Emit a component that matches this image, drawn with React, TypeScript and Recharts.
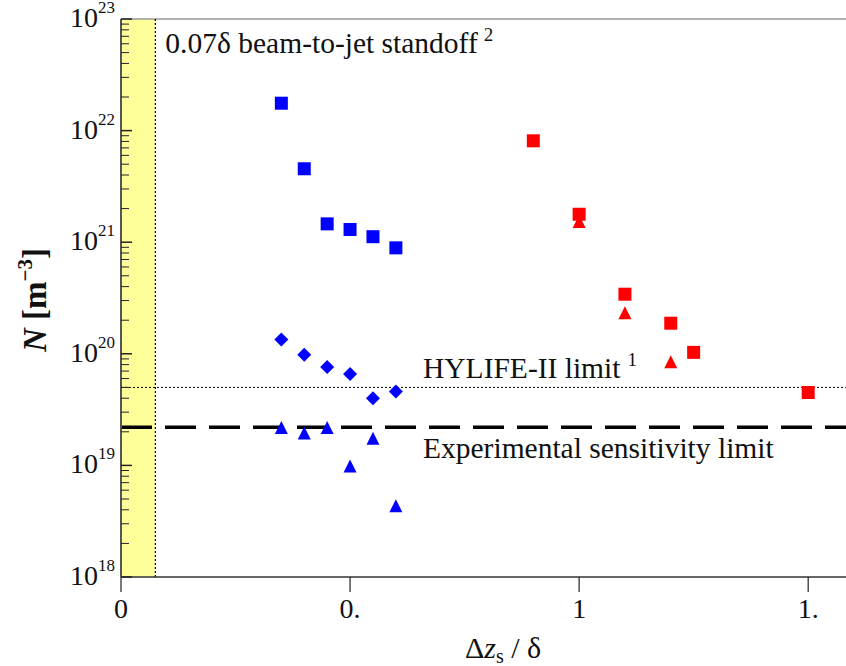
import React from "react";
import { ScatterChart, Scatter, XAxis, YAxis, ReferenceArea, ReferenceLine } from "recharts";

// blue series (smaller standoff)
const blueX = [0.35, 0.4, 0.45, 0.5, 0.55, 0.6];
const blueSquareN = [1.76e22, 4.55e21, 1.46e21, 1.3e21, 1.12e21, 8.9e20];
const blueDiamondN = [1.34e20, 9.8e19, 7.6e19, 6.6e19, 4.0e19, 4.6e19];
const blueTriangleN = [2.16e19, 1.93e19, 2.16e19, 9.8e18, 1.73e19, 4.3e18];

// red series
const redSquareX = [0.9, 1.0, 1.1, 1.2, 1.25, 1.5];
const redSquareN = [8.1e21, 1.78e21, 3.42e20, 1.88e20, 1.03e20, 4.5e19];
const redTriangleX = [1.0, 1.1, 1.2];
const redTriangleN = [1.52e21, 2.31e20, 8.4e19];

const xTicks = [0, 0.5, 1, 1.5];
const xTickLabels = ["0", "0.", "1", "1."];
const decades = [18, 19, 20, 21, 22, 23];

const standoff = 0.075;
const hylifeLimit = 5e19;
const sensitivityLimit = 2.2e19;

const FONT = "'Liberation Serif', 'Times New Roman', 'DejaVu Serif', serif";
const BLUE = "#0000ff";
const RED = "#ff0000";

const toPoints = (xs: number[], ns: number[]) => xs.map((x, i) => ({ x, n: ns[i] }));

const yTicks: number[] = [];
decades.forEach((d) => {
  yTicks.push(Math.pow(10, d));
  if (d < 23) for (let k = 2; k <= 9; k++) yTicks.push(k * Math.pow(10, d));
});

const square = (color: string) => (p: any) => (
  <rect x={p.cx - 6.5} y={p.cy - 6.5} width={13} height={13} fill={color} />
);
const diamond = (color: string) => (p: any) => (
  <polygon
    points={`${p.cx},${p.cy - 7} ${p.cx + 7},${p.cy} ${p.cx},${p.cy + 7} ${p.cx - 7},${p.cy}`}
    fill={color}
  />
);
const triangle = (color: string) => (p: any) => (
  <polygon
    points={`${p.cx},${p.cy - 7} ${p.cx + 6.5},${p.cy + 6} ${p.cx - 6.5},${p.cy + 6}`}
    fill={color}
  />
);

const YTick = (props: any) => {
  const { x, y, payload } = props;
  const e = Math.log10(payload.value);
  const major = Math.abs(e - Math.round(e)) < 1e-6;
  return (
    <g>
      <line x1={x} x2={x + (major ? 11 : 8)} y1={y} y2={y} stroke="#222" strokeWidth={major ? 1.5 : 1} />
      {major && (
        <text x={x - 6} y={y + 8} textAnchor="end" fontSize={28} fontFamily={FONT} fill="#111">
          <tspan>10</tspan>
          <tspan dy={-14} fontSize={17}>{Math.round(e)}</tspan>
        </text>
      )}
    </g>
  );
};

const XTick = (props: any) => {
  const { x, y, payload } = props;
  const i = xTicks.indexOf(payload.value);
  return (
    <text x={x} y={y + 26} textAnchor="middle" fontSize={28} fontFamily={FONT} fill="#111">
      {xTickLabels[i]}
    </text>
  );
};

export default function App() {
  return (
    <div style={{ position: "absolute", left: 0, top: 0, width: 846, height: 666, overflow: "hidden", background: "#fff" }}>
      <ScatterChart width={854} height={666} margin={{ top: 19, right: 0, bottom: 0, left: 0 }}>
        <ReferenceArea x1={0} x2={standoff} fill="#ffff99" fillOpacity={1} stroke="none" />
        <ReferenceLine y={1e23} stroke="#999" strokeWidth={1.5} />
        <ReferenceLine
          x={standoff}
          stroke="#000"
          strokeWidth={1.2}
          strokeDasharray="2 2"
          label={(p: any) => (
            <text x={p.viewBox.x + 10} y={p.viewBox.y + 34} fontSize={29.5} fontFamily={FONT} fill="#111">
              <tspan>0.07δ beam-to-jet standoff</tspan>
              <tspan dx={6} dy={-12} fontSize={19}>2</tspan>
            </text>
          )}
        />
        <ReferenceLine
          y={hylifeLimit}
          stroke="#000"
          strokeWidth={1}
          strokeDasharray="2 2"
          label={(p: any) => (
            <text x={p.viewBox.x + 302} y={p.viewBox.y - 9} fontSize={29.5} fontFamily={FONT} fill="#111">
              <tspan>HYLIFE-II limit</tspan>
              <tspan dx={7} dy={-12} fontSize={19}>1</tspan>
            </text>
          )}
        />
        <ReferenceLine
          y={sensitivityLimit}
          stroke="#000"
          strokeWidth={3.5}
          strokeDasharray="31 13"
          label={(p: any) => (
            <text x={p.viewBox.x + 302} y={p.viewBox.y + 31} fontSize={29.5} fontFamily={FONT} fill="#111">
              Experimental sensitivity limit
            </text>
          )}
        />
        <XAxis
          type="number"
          dataKey="x"
          domain={[0, 1.6]}
          ticks={xTicks}
          height={89}
          tickSize={15}
          tickMargin={0}
          tick={<XTick />}
          axisLine={{ stroke: "#333", strokeWidth: 1.5 }}
          tickLine={{ stroke: "#222", strokeWidth: 1.2 }}
          allowDataOverflow
          label={() => (
            <text x={465} y={658} fontSize={30} fontFamily={FONT} fill="#111">
              <tspan>Δ</tspan>
              <tspan fontStyle="italic">z</tspan>
              <tspan fontSize={20} dy={5}>s</tspan>
              <tspan dy={-5}> / δ</tspan>
            </text>
          )}
        />
        <YAxis
          type="number"
          dataKey="n"
          scale="log"
          domain={[1e18, 1e23]}
          ticks={yTicks}
          interval={0}
          width={121}
          tickSize={0}
          tickMargin={0}
          tick={<YTick />}
          axisLine={{ stroke: "#555", strokeWidth: 2 }}
          tickLine={false}
          allowDataOverflow
          label={() => (
            <text
              transform="translate(46, 300) rotate(-90)"
              textAnchor="middle"
              fontSize={33}
              fontWeight="bold"
              fontFamily={FONT}
              fill="#111"
            >
              <tspan fontStyle="italic">N</tspan>
              <tspan>{"  [m"}</tspan>
              <tspan fontSize={21} dy={-14}>−3</tspan>
              <tspan dy={14}>]</tspan>
            </text>
          )}
        />
        <Scatter data={toPoints(blueX, blueSquareN)} shape={square(BLUE)} isAnimationActive={false} />
        <Scatter data={toPoints(blueX, blueDiamondN)} shape={diamond(BLUE)} isAnimationActive={false} />
        <Scatter data={toPoints(blueX, blueTriangleN)} shape={triangle(BLUE)} isAnimationActive={false} />
        <Scatter data={toPoints(redSquareX, redSquareN)} shape={square(RED)} isAnimationActive={false} />
        <Scatter data={toPoints(redTriangleX, redTriangleN)} shape={triangle(RED)} isAnimationActive={false} />
      </ScatterChart>
    </div>
  );
}
